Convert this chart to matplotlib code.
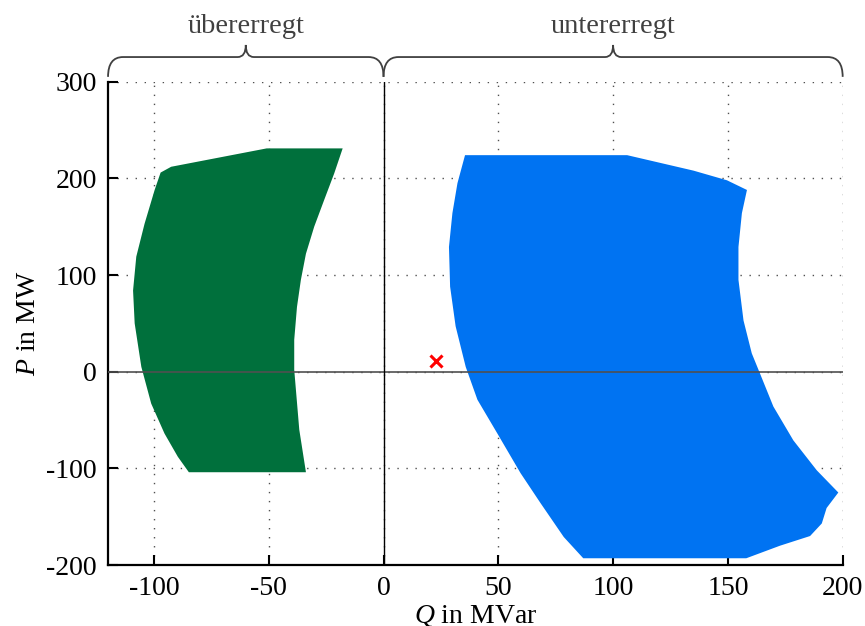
import numpy as np
import matplotlib
matplotlib.use("Agg")
import matplotlib.pyplot as plt
from matplotlib.path import Path
from matplotlib.patches import PathPatch, Polygon

plt.rcParams['font.family'] = ['Liberation Serif', 'DejaVu Serif']
plt.rcParams['mathtext.fontset'] = 'custom'
plt.rcParams['mathtext.rm'] = 'Liberation Serif'
plt.rcParams['mathtext.it'] = 'Liberation Serif:italic'
plt.rcParams['axes.unicode_minus'] = False

# operating region, over-excited (Q, P)
q_over = [-17.8, -50.9, -92.5, -97.1, -99.7, -104.1, -107.7, -109.1, -108.4, -105.5,
          -101.2, -95.4, -89.6, -84.8, -33.8, -36.7, -38.9, -38.9, -37.7, -36.0,
          -33.8, -30.2, -25.8, -21.5]
p_over = [231, 231, 212, 206, 188, 153, 119, 84, 50, 5,
          -33, -64, -88, -104, -104, -60, 2, 33, 67, 95,
          122, 150, 178, 205]

# operating region, under-excited (Q, P)
q_under = [35.5, 106.1, 135.0, 149.6, 158.3, 156.1, 154.6, 154.6, 156.8, 160.4,
           164.0, 169.8, 178.5, 188.7, 198.1, 193.0, 190.9, 185.8, 172.7, 158.0,
           87.0, 78.5, 68.4, 59.7, 49.6, 40.9, 35.8, 31.4, 29.0, 28.5,
           30.0, 32.2]
p_under = [224, 224, 208, 198, 188, 164, 129, 95, 53, 19,
           -2, -36, -71, -102, -125, -141, -157, -170, -180, -193,
           -193, -171, -136, -105, -64, -29, 5, 47, 88, 129,
           164, 195]

# current operating point
q_op, p_op = 22.7, 11.4

xticks = [-100, -50, 0, 50, 100, 150, 200]
yticks = [-200, -100, 0, 100, 200, 300]
regions = [("übererregt", -120, 0), ("untererregt", 0, 200)]

fig = plt.figure(figsize=(8.65, 6.26), dpi=100)
ax = fig.add_axes([0.1249, 0.0974, 0.8493, 0.7721])

ax.add_patch(Polygon(np.column_stack([q_over, p_over]), closed=True,
                     facecolor='#00703c', edgecolor='none', zorder=2))
ax.add_patch(Polygon(np.column_stack([q_under, p_under]), closed=True,
                     facecolor='#0073f2', edgecolor='none', zorder=2))

ax.axhline(0, color='#505050', lw=1.2, zorder=3)
ax.axvline(0, color='black', lw=1.0, zorder=3)
ax.plot(q_op, p_op, marker='x', color='#ff0000', ms=9, mew=2.2,
        linestyle='none', zorder=4)

ax.set_xlim(-120, 200)
ax.set_ylim(-200, 300)
ax.set_xticks(xticks)
ax.set_yticks(yticks)
ax.grid(True, color='#505050', lw=1.0, linestyle=(0, (1, 5.5)))
ax.set_axisbelow(True)

for s in ['top', 'right']:
    ax.spines[s].set_visible(False)
for s in ['left', 'bottom']:
    ax.spines[s].set_linewidth(1.6)
ax.tick_params(direction='in', length=7, width=1.5, labelsize=20, pad=8)

ax.set_xlabel(r'$Q$ in MVar', fontsize=20, labelpad=1)
ax.set_ylabel(r'$P$ in MW', fontsize=20, labelpad=4)

# braces over the two regions
y_end, y_h, y_tip = 305, 325.5, 338
r, r2 = 6.5, 3.5
for label, a, b in regions:
    m = (a + b) / 2
    verts = [(a, y_end), (a, y_h), (a + r, y_h),
             (m - r2, y_h), (m, y_h), (m, y_tip),
             (m, y_h), (m + r2, y_h),
             (b - r, y_h), (b, y_h), (b, y_end)]
    codes = [Path.MOVETO, Path.CURVE3, Path.CURVE3,
             Path.LINETO, Path.CURVE3, Path.CURVE3,
             Path.CURVE3, Path.CURVE3,
             Path.LINETO, Path.CURVE3, Path.CURVE3]
    ax.add_patch(PathPatch(Path(verts, codes), facecolor='none',
                           edgecolor='#404040', lw=1.3, clip_on=False))
    ax.text(m, 357, label, ha='center', va='center', fontsize=20.5,
            color='#404040', clip_on=False)

fig.savefig("out.png", dpi=100)
